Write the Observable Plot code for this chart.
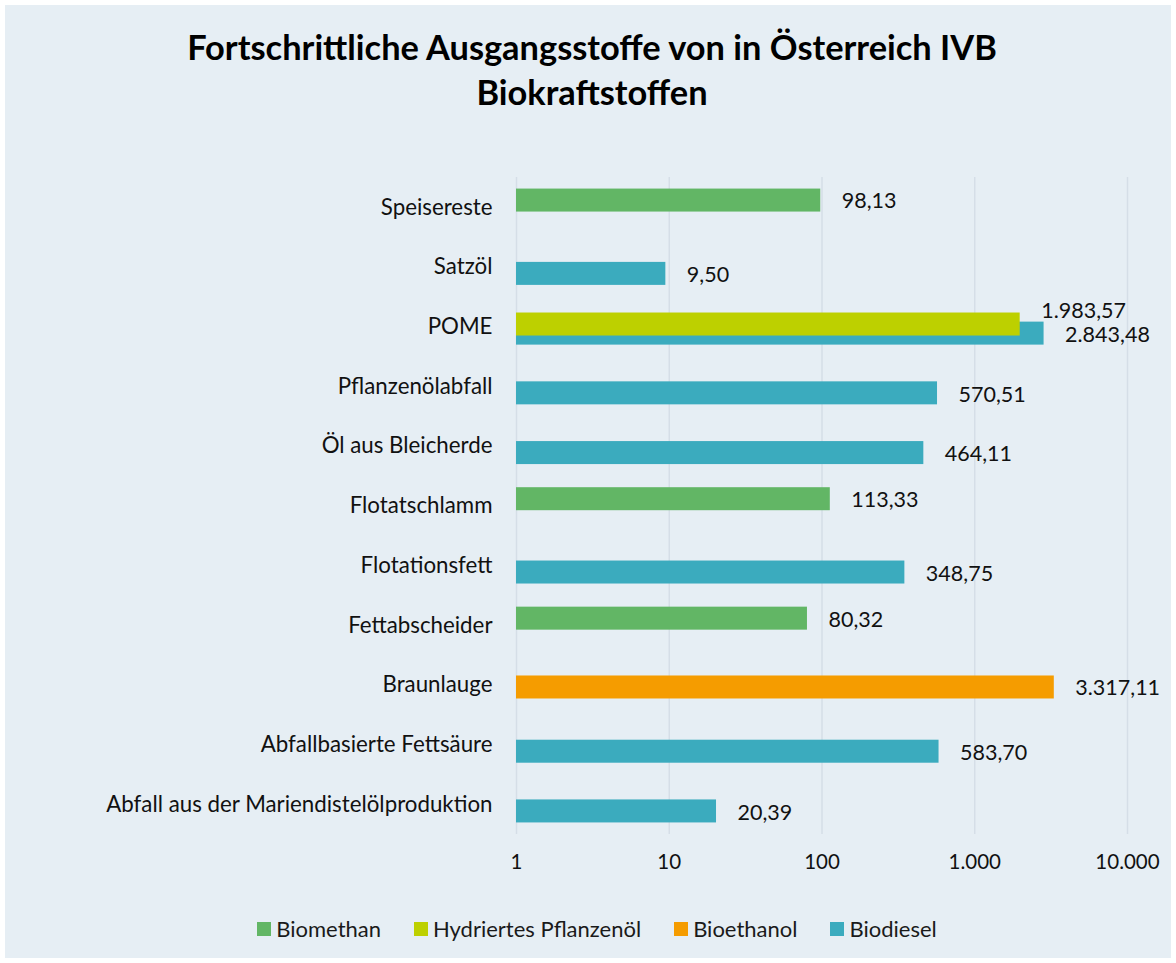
<!DOCTYPE html>
<html><head><meta charset="utf-8">
<script src="https://cdn.jsdelivr.net/npm/d3@7"></script>
<script src="https://cdn.jsdelivr.net/npm/@observablehq/plot@0.6"></script>
<style>
body{margin:0;background:#fff;font-family:Lato,sans-serif;}
#wrap{position:absolute;left:5px;top:5px;width:1166px;height:953px;background:#E6EEF4;overflow:hidden;}
#title{position:absolute;top:19px;left:4px;width:1166px;text-align:center;font-weight:700;font-size:34.4px;line-height:45px;color:#000;}
#chart{position:absolute;left:0;top:150px;}
#legend{position:absolute;top:912px;left:9px;width:1166px;display:flex;justify-content:center;font-size:22px;color:#1a1a1a;line-height:24px}
.item{display:flex;align-items:center;margin:0 16.5px}
.sw{width:14px;height:14px;margin-right:5px}
</style></head>
<body>
<div id="wrap">
  <div id="title">Fortschrittliche Ausgangsstoffe von in Österreich IVB<br>Biokraftstoffen</div>
  <div id="chart"></div>
  <div id="legend"></div>
</div>
<script>
const categories = ["Speisereste","Satzöl","POME","Pflanzenölabfall","Öl aus Bleicherde","Flotatschlamm","Flotationsfett","Fettabscheider","Braunlauge","Abfallbasierte Fettsäure","Abfall aus der Mariendistelölproduktion"];
const seriesNames = ["Biomethan","Hydriertes Pflanzenöl","Bioethanol","Biodiesel"];
const seriesColors = ["#62B665","#BDD000","#F59C00","#3BABBE"];
const biomethan  = [98.13, null, null, null, null, 113.33, null, 80.32, null, null, null];
const hvo        = [null, null, 1983.57, null, null, null, null, null, null, null, null];
const bioethanol = [null, null, null, null, null, null, null, null, 3317.11, null, null];
const biodiesel  = [null, 9.50, 2843.48, 570.51, 464.11, null, 348.75, null, null, 583.70, 20.39];
const xTicks = [1, 10, 100, 1000, 10000];
const xTickLabels = ["1", "10", "100", "1.000", "10.000"];

const seriesValues = [biomethan, hvo, bioethanol, biodiesel];
const rows = [];
seriesNames.forEach((s, si) => {
  seriesValues[si].forEach((v, ci) => {
    if (v != null) rows.push({category: categories[ci], series: s, value: v});
  });
});

const de = d3.formatLocale({decimal: ",", thousands: ".", grouping: [3], currency: ["", " €"]});
const fmt = de.format(",.2f");

const seriesDy = {"Biomethan": -6.8, "Hydriertes Pflanzenöl": -2.3, "Bioethanol": 2.3, "Biodiesel": 6.8};
const labelDy = {"Biomethan": -6.8, "Hydriertes Pflanzenöl": -17, "Bioethanol": 2.3, "Biodiesel": 7.3};

const marks = [
  Plot.gridX({ticks: xTicks, stroke: "#D5DEE7", strokeOpacity: 1, strokeWidth: 1.5})
];
// draw later series first so earlier series sit on top (as in the reference)
[...seriesNames].reverse().forEach((s) => {
  const si = seriesNames.indexOf(s);
  const d = rows.filter(r => r.series === s);
  marks.push(Plot.barX(d, {x1: 1, x2: "value", y: "category", fill: seriesColors[si], dy: seriesDy[s]}));
});
seriesNames.forEach((s) => {
  const d = rows.filter(r => r.series === s);
  marks.push(Plot.text(d, {x: "value", y: "category", text: r => fmt(r.value), dx: 21, dy: labelDy[s] + 1, textAnchor: "start", fill: "#111", fontSize: 21.5}));
});
marks.push(Plot.axisY({tickSize: 0, tickPadding: 24, label: null, fill: "#111", fontSize: 22.3}));
marks.push(Plot.axisX({ticks: xTicks, tickFormat: v => xTickLabels[xTicks.indexOf(v)], tickSize: 0, tickPadding: 20, label: null, fill: "#111", fontSize: 20.5}));

const chart = Plot.plot({
  width: 1166,
  height: 730,
  marginLeft: 511,
  marginRight: 44,
  marginTop: 22,
  marginBottom: 51,
  style: {fontFamily: "Lato, sans-serif", fontSize: "20px", background: "transparent", color: "#111"},
  x: {type: "log", domain: [1, 10000]},
  y: {domain: categories, paddingInner: 0.615, paddingOuter: 0.3075, round: false},
  marks
});
document.getElementById("chart").appendChild(chart);

const legend = document.getElementById("legend");
seriesNames.forEach((s, i) => {
  const it = document.createElement("div");
  it.className = "item";
  const sw = document.createElement("div");
  sw.className = "sw";
  sw.style.background = seriesColors[i];
  const t = document.createElement("span");
  t.textContent = s;
  it.appendChild(sw); it.appendChild(t);
  legend.appendChild(it);
});
</script>
</body></html>
